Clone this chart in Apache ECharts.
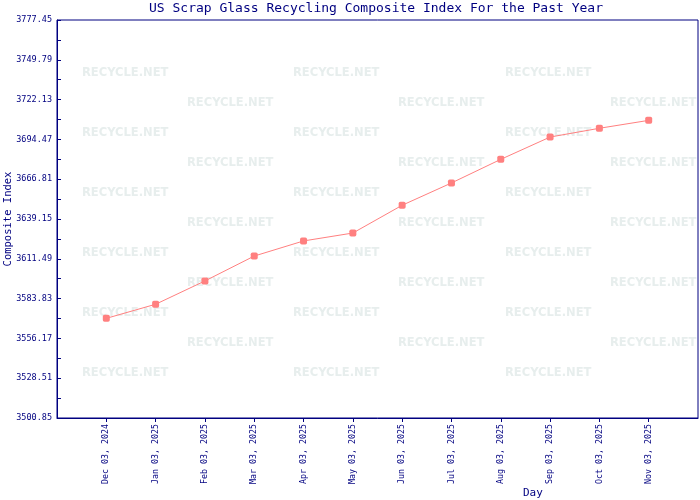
<!DOCTYPE html>
<html><head><meta charset="utf-8">
<script src="https://cdn.jsdelivr.net/npm/echarts@6/dist/echarts.min.js"></script>
<style>html,body{margin:0;padding:0;background:#fff}#c{width:700px;height:500px}</style>
</head><body><div id="c"></div>
<script>
const categories = ['Dec 03, 2024','Jan 03, 2025','Feb 03, 2025','Mar 03, 2025','Apr 03, 2025','May 03, 2025','Jun 03, 2025','Jul 03, 2025','Aug 03, 2025','Sep 03, 2025','Oct 03, 2025','Nov 03, 2025'];
const indexValues = [3570.1, 3579.9, 3596.1, 3613.4, 3623.9, 3629.4, 3648.7, 3664.2, 3680.6, 3696.1, 3702.2, 3707.7];
const yMin = 3500.85, yMax = 3777.45;
const yTickLabels = ['3500.85','3528.51','3556.17','3583.83','3611.49','3639.15','3666.81','3694.47','3722.13','3749.79','3777.45'];

const NAVY = '#000080';
const MONO = '"DejaVu Sans Mono", "Liberation Mono", monospace';
const xCats = [''].concat(categories, ['']);
const seriesData = [null].concat(indexValues, [null]);

// watermark decoration
const wm = [];
const rowsA = [73,133,193,253,313,373], rowsB = [103,163,223,283,343];
[[rowsA,[82,293,505]],[rowsB,[187,398,610]]].forEach(([rows, xs]) => {
  rows.forEach(y => xs.forEach(x => {
    wm.push({type:'text', x:x, y:y, z:-10, silent:true,
      style:{text:'RECYCLE.NET', font:'bold 11.5px "DejaVu Sans", sans-serif', fill:'#e7eeed', textVerticalAlign:'middle'}});
  }));
});
wm.push({type:'text', x:523, y:488, style:{text:'Day', font:'11px ' + MONO, fill:NAVY}});

const chart = echarts.init(document.getElementById('c'), null, {renderer:'canvas'});
chart.setOption({
  animation:false,
  backgroundColor:'#fff',
  title:{text:'US Scrap Glass Recycling Composite Index For the Past Year', left:376, top:2, padding:0, textAlign:'center',
    textStyle:{fontFamily:MONO, fontSize:13, fontWeight:'normal', color:NAVY}},
  grid:{left:57, top:20, right:2, bottom:82, show:true, borderColor:NAVY, borderWidth:1, containLabel:false, outerBoundsMode:'none'},
  graphic:wm,
  xAxis:{type:'category', data:xCats, boundaryGap:false,
    axisLine:{lineStyle:{color:NAVY, width:1}},
    axisTick:{length:4, lineStyle:{color:NAVY}, interval:(i)=> i>0 && i<xCats.length-1},
    axisLabel:{rotate:90, margin:6, interval:0, fontFamily:MONO, fontSize:8.3, color:NAVY},
    splitLine:{show:false}},
  yAxis:[
    {type:'value', min:0, max:20, interval:1, position:'left',
      name:'Composite Index', nameLocation:'middle', nameRotate:90, nameGap:43, nameMoveOverlap:false,
      nameTextStyle:{fontFamily:MONO, fontSize:10.5, color:NAVY},
      axisLine:{show:true, lineStyle:{color:NAVY}},
      axisTick:{show:true, inside:true, length:4, lineStyle:{color:NAVY}},
      axisLabel:{margin:5, fontFamily:MONO, fontSize:8.5, color:NAVY,
        formatter:(v)=> (v % 2 === 0 ? yTickLabels[v/2] : '')},
      splitLine:{show:false}},
    {type:'value', min:yMin, max:yMax, show:false, splitLine:{show:false}}
  ],
  series:[{type:'line', yAxisIndex:1, data:seriesData, connectNulls:false,
    symbol:'roundRect', symbolSize:7, showAllSymbol:true,
    lineStyle:{color:'#ff8080', width:1}, itemStyle:{color:'#ff8080'}, z:5}]
});
</script></body></html>
